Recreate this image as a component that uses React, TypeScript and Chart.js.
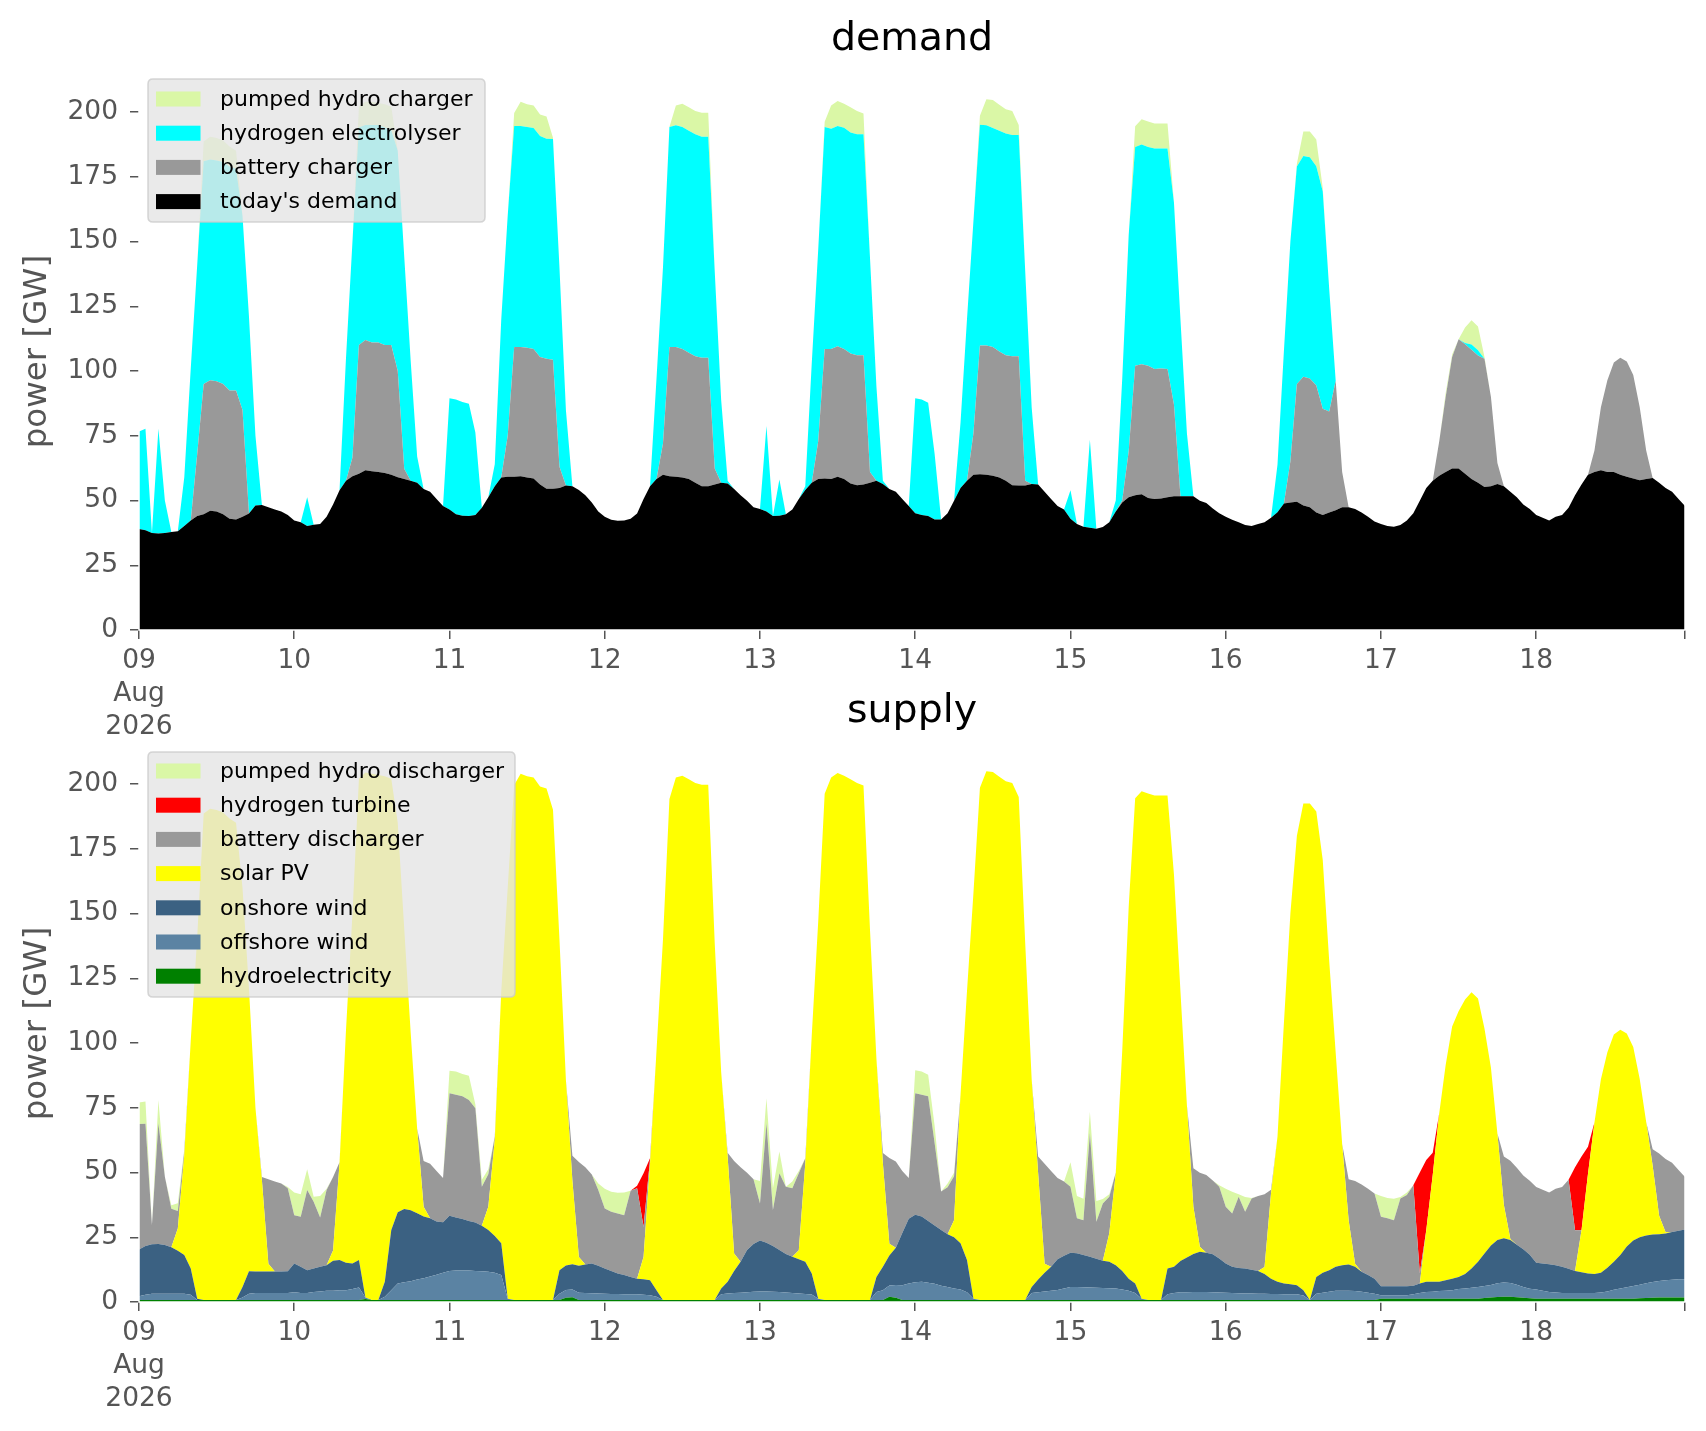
import React, { useEffect, useRef } from "react";
import { Chart, registerables } from "chart.js";

Chart.register(...registerables);

// ---------- axis labels ----------
const dayLabels = ["09", "10", "11", "12", "13", "14", "15", "16", "17", "18"];
const firstTickExtra = ["Aug", "2026"];
const yTickValues = [0, 25, 50, 75, 100, 125, 150, 175, 200];
const HOURS = 240;
const hours = Array.from({ length: HOURS }, (_, i) => i);

// ---------- demand (GW, hourly from 09 Aug 00:00) ----------
const todaysDemand = [
  39, 38.5, 37.5, 37.3, 37.5, 37.8, 38.1, 40.2, 42.3, 44, 44.7, 46, 45.8, 44.7, 43, 42.7, 43.7, 45, 48.1, 48.3, 47.4, 46.5, 45.8, 44.4,
  42.3, 41.6, 40.2, 40.6, 40.9, 43.7, 48.5, 54, 57.6, 59.4, 60.3, 61.7, 61.3, 61, 60.6, 59.9, 59, 58.3, 57.6, 56.9, 54.4, 53.4, 50.6, 47.9,
  46.5, 44.7, 44.1, 44, 44.4, 47.2, 51.3, 55.5, 58.9, 59.2, 59.2, 59.4, 58.9, 58.5, 56.2, 54.5, 54.5, 54.8, 55.8, 55.5, 54.1, 52, 49.2, 45.8,
  43.7, 42.6, 42.2, 42.3, 43, 45, 50.6, 55.5, 58.3, 59.9, 59.4, 59.2, 58.9, 58.3, 56.9, 55.5, 55.5, 56.2, 56.9, 56.6, 54.4, 52, 49.9, 47.4,
  46.7, 45.8, 44, 44.1, 44.7, 46.5, 50.6, 54.1, 56.9, 58.3, 58.5, 58.3, 59.2, 58.3, 56.6, 55.9, 56.2, 56.9, 57.6, 56.4, 54.4, 53.4, 50.6, 47.9,
  45.1, 44.4, 44, 42.7, 42.7, 45.1, 49.9, 54.8, 57.6, 59.9, 60.1, 59.9, 59.6, 58.9, 57.6, 55.9, 55.8, 55.8, 56.4, 56.2, 53.4, 50.6, 47.9, 46.5,
  43, 40.9, 39.9, 39.5, 39.1, 39.8, 41.6, 45.8, 49.2, 51.3, 52, 52.4, 51, 50.6, 50.8, 51.3, 51.6, 51.6, 51.6, 51.6, 49.9, 49, 46.9, 45.1,
  43.7, 42.6, 41.6, 40.5, 40.2, 40.9, 41.6, 43.3, 45.5, 48.8, 49.2, 49.5, 48.1, 47.4, 45.4, 44.4, 45.4, 46.2, 47.4, 47.4, 46.7, 45.4, 43.7, 41.9,
  40.9, 40.2, 39.9, 40.5, 42.3, 45.1, 49.9, 54.8, 57.6, 59.6, 61, 62.4, 62.4, 60.3, 58.3, 56.9, 55.2, 55.5, 56.4, 55.5, 53.4, 51.3, 48.5, 46.7,
  44.4, 43.3, 42.3, 43.7, 44.4, 47.2, 52, 56.2, 59.9, 61, 61.7, 61, 61, 59.9, 59.2, 58.5, 57.8, 58.3, 58.7, 56.9, 54.8, 53.4, 50.6, 47.9,
];

const batteryCharger = [
  0, 0, 0, 0, 0, 0, 0, 0, 0, 24, 50.3, 50.4, 50.2, 50.3, 49.5, 49.8, 41.2, 0, 0, 0, 0, 0, 0, 0,
  0, 0, 0, 0, 0, 0, 0, 0, 0, 7.2, 49.7, 50.3, 49.7, 50, 49.4, 50.1, 41, 4, 0, 0, 0, 0, 0, 0,
  0, 0, 0, 0, 0, 0, 0, 0, 0, 15.8, 50.1, 49.9, 50.1, 50, 49.2, 50.2, 49.8, 8.2, 0, 0, 0, 0, 0, 0,
  0, 0, 0, 0, 0, 0, 0, 0, 0, 12, 49.9, 50.1, 49.6, 48.7, 48.8, 49.6, 49.6, 6.2, 0, 0, 0, 0, 0, 0,
  0, 0, 0, 0, 0, 0, 0, 0, 0, 14.5, 50, 50.2, 50.4, 50.2, 50.2, 50.2, 49.9, 4.1, 0, 0, 0, 0, 0, 0,
  0, 0, 0, 0, 0, 0, 0, 0, 0, 16.1, 49.7, 49.9, 49.7, 48.6, 48.5, 49.8, 49.9, 1.8, 0, 0, 0, 0, 0, 0,
  0, 0, 0, 0, 0, 0, 0, 0, 0.8, 17.7, 50, 50.2, 51, 50.2, 50.2, 49.5, 35.4, 0, 0, 0, 0, 0, 0, 0,
  0, 0, 0, 0, 0, 0, 0, 0, 0, 0, 16, 45.5, 49.7, 49.7, 49, 41, 39, 50, 13.6, 0, 0, 0, 0, 0,
  0, 0, 0, 0, 0, 0, 0, 0, 0, 13.2, 29, 43, 49.9, 50, 49.9, 49.1, 49.5, 34.5, 8.1, 0, 0, 0, 0, 0,
  0, 0, 0, 0, 0, 0, 0, 0, 0, 8.3, 24.3, 35.4, 42.3, 45.2, 44.5, 40, 28.2, 11, 0, 0, 0, 0, 0, 0,
];

const hydrogenElectrolyser = [
  37.6, 39.2, 0, 40.4, 12.5, 0, 0, 18.8, 58.7, 73, 86, 85.3, 85.3, 85.7, 86.5, 85.5, 75, 76, 27, 0, 0, 0, 0, 0,
  0, 0, 11.1, 0, 0, 0, 0, 0, 47.4, 83.4, 84, 83, 84, 84, 84, 83, 85, 82, 46.4, 10.1, 0, 0, 0, 0,
  43, 44.3, 43.9, 43.4, 31.9, 0, 0, 8.5, 61, 85, 85.3, 85.3, 85.2, 85.3, 85.3, 85, 85.3, 77, 29, 0, 0, 0, 0, 0,
  0, 0, 0, 0, 0, 0, 0, 0, 38.7, 68, 84.9, 85.6, 85.7, 85.8, 85.7, 85.3, 85.3, 76.3, 31.9, 1, 0, 0, 0, 0,
  0, 33, 0, 14, 0, 0, 0, 1.4, 46, 74, 85.7, 85, 85, 85.4, 85.3, 85.3, 85.3, 83, 36.4, 1.2, 0, 0, 0, 0,
  44.4, 44.6, 43.7, 25.3, 0, 0, 0, 25.2, 62.4, 82, 85.3, 85.1, 84.5, 85.3, 85.6, 85.4, 85.4, 81.1, 29.6, 0, 0, 0, 0, 0,
  11, 0, 0, 34, 0, 0, 0, 4.2, 47, 83.6, 84.5, 84.9, 84.5, 85.1, 84.9, 85.1, 78, 68.4, 24.4, 0, 0, 0, 0, 0,
  0, 0, 0, 0, 0, 0, 0, 0, 18.3, 59.2, 85, 84, 85.2, 85.4, 84.7, 83.9, 47.2, 0, 0, 0, 0, 0, 0, 0,
  0, 0, 0, 0, 0, 0, 0, 0, 0, 0, 0, 0, 0, 0.5, 2, 2, 0, 0, 0, 0, 0, 0, 0, 0,
  0, 0, 0, 0, 0, 0, 0, 0, 0, 0, 0, 0, 0, 0, 0, 0, 0, 0, 0, 0, 0, 0, 0, 0,
];

const pumpedHydroCharger = [
  0, 0, 0, 0, 0, 0, 0, 0, 0, 0, 7.6, 8.7, 8.7, 8.3, 7.7, 7, 0, 0, 0, 0, 0, 0, 0, 0,
  0, 0, 0, 0, 0, 0, 0, 0, 0, 0, 8, 9, 9, 8.5, 9, 9, 0, 0, 0, 0, 0, 0, 0, 0,
  0, 0, 0, 0, 0, 0, 0, 0, 0, 0, 5, 9.4, 8.8, 8.7, 8.3, 8.6, 0.5, 0, 0, 0, 0, 0, 0, 0,
  0, 0, 0, 0, 0, 0, 0, 0, 0, 0, 0, 7.6, 9, 9, 9, 9.3, 9.3, 0, 0, 0, 0, 0, 0, 0,
  0, 0, 0, 0, 0, 0, 0, 0, 0, 0, 2, 9, 9.6, 9.3, 9.7, 9, 8, 0, 0, 0, 0, 0, 0, 0,
  0, 0, 0, 0, 0, 0, 0, 0, 0, 0, 3.5, 10, 10.8, 10, 9.4, 9.3, 3.9, 0, 0, 0, 0, 0, 0, 0,
  0, 0, 0, 0, 0, 0, 0, 0, 0, 0, 8, 9.7, 9.8, 9.7, 9.7, 9.7, 0, 0, 0, 0, 0, 0, 0, 0,
  0, 0, 0, 0, 0, 0, 0, 0, 0, 0, 0, 1, 9.5, 10, 10.3, 1.4, 0, 0, 0, 0, 0, 0, 0, 0,
  0, 0, 0, 0, 0, 0, 0, 0, 0, 0, 1.5, 1, 0, 6, 9.4, 9.2, 0.7, 0, 0, 0, 0, 0, 0, 0,
  0, 0, 0, 0, 0, 0, 0, 0, 0, 0, 0, 0, 0, 0, 0, 0, 0, 0, 0, 0, 0, 0, 0, 0,
];

// ---------- supply (GW, hourly from 09 Aug 00:00) ----------
const hydroelectricity = [
  0.8, 0.8, 0.8, 0.8, 0.8, 0.8, 0.8, 0.8, 0.8, 0.8, 0.8, 0.8, 0.8, 0.8, 0.8, 0.8, 0.8, 0.8, 0.8, 0.8, 0.8, 0.8, 0.8, 0.8,
  0.8, 0.8, 0.8, 0.8, 0.8, 0.8, 0.8, 0.8, 0.8, 0.8, 0.8, 1.2, 0.8, 0.8, 0.8, 0.8, 0.8, 0.8, 0.8, 0.8, 0.8, 0.8, 0.8, 0.8,
  0.8, 0.8, 0.8, 0.8, 0.8, 0.8, 0.8, 0.8, 0.8, 0.8, 0.8, 0.8, 0.8, 0.8, 0.8, 0.8, 0.8, 0.8, 1.6, 1.8, 0.8, 0.8, 0.8, 0.8,
  0.8, 0.8, 0.8, 0.8, 0.8, 0.8, 0.8, 0.8, 0.8, 0.8, 0.8, 0.8, 0.8, 0.8, 0.8, 0.8, 0.8, 0.8, 0.8, 0.8, 0.8, 0.8, 0.8, 0.8,
  0.8, 0.8, 0.8, 0.8, 0.8, 0.8, 0.8, 0.8, 0.8, 0.8, 0.8, 0.8, 0.8, 0.8, 0.8, 0.8, 0.8, 0.8, 0.8, 0.8, 2, 1.6, 0.8, 0.8,
  0.8, 0.8, 0.8, 0.8, 0.8, 0.8, 0.8, 0.8, 0.8, 0.8, 0.8, 0.8, 0.8, 0.8, 0.8, 0.8, 0.8, 0.8, 0.8, 0.8, 0.8, 0.8, 0.8, 0.8,
  0.8, 0.8, 0.8, 0.8, 0.8, 0.8, 0.8, 0.8, 0.8, 0.8, 0.8, 0.8, 0.8, 0.8, 0.8, 0.8, 0.8, 0.8, 0.8, 0.8, 0.8, 0.8, 0.8, 0.8,
  0.8, 0.8, 0.8, 0.8, 0.8, 0.8, 0.8, 0.8, 0.8, 0.8, 0.8, 0.8, 0.8, 0.8, 0.8, 0.8, 0.8, 0.8, 0.8, 0.8, 0.8, 0.8, 0.8, 0.8,
  1.3, 1.3, 1.3, 1.3, 1.3, 1.3, 1.3, 1.3, 1.3, 1.3, 1.3, 1.3, 1.3, 1.3, 1.3, 1.3, 1.5, 1.7, 1.9, 2, 2, 1.8, 1.6, 1.4,
  1.3, 1.3, 1.3, 1.3, 1.3, 1.3, 1.3, 1.3, 1.3, 1.3, 1.3, 1.3, 1.3, 1.3, 1.3, 1.3, 1.4, 1.5, 1.6, 1.7, 1.7, 1.7, 1.7, 1.7,
];

const offshoreWind = [
  1.4, 2, 2.4, 2.4, 2.4, 2.4, 2.4, 2.4, 2, 0, 0, 0, 0, 0, 0, 0, 0.9, 2.4, 2.7, 2.7, 2.7, 2.7, 2.7, 2.7,
  3, 2.7, 2.7, 3.1, 3.3, 3.5, 3.5, 3.7, 3.7, 4.2, 4.8, 0.5, 0, 0, 1.2, 3.7, 6.3, 6.8, 7.2, 7.9, 8.4, 9, 9.7, 10.5,
  11.2, 11.4, 11.4, 11.4, 11.2, 11.1, 10.9, 10.5, 9.6, 0.5, 0, 0, 0, 0, 0, 0, 0, 2.4, 3, 3, 2.8, 2.7, 2.6, 2.5,
  2.4, 2.3, 2.3, 2.2, 2.2, 2.2, 2, 1.8, 1.2, 0, 0, 0, 0, 0, 0, 0, 0, 0, 2.2, 2.5, 2.7, 2.8, 3, 3.2,
  3.3, 3.3, 3.2, 3.1, 2.9, 2.7, 2.5, 2.3, 2.1, 0.5, 0, 0, 0, 0, 0, 0, 0, 0, 3.1, 3.7, 4.4, 5, 5.7, 6.3,
  6.8, 7, 6.6, 6.2, 5.5, 5, 4.4, 4, 3, 0.5, 0, 0, 0, 0, 0, 0, 0, 0, 2.7, 3, 3.3, 3.5, 3.8, 4.4,
  5, 5, 4.9, 4.8, 4.7, 4.6, 4.5, 4.4, 4, 3.5, 2.7, 0.5, 0, 0, 0, 2.2, 2.7, 3, 3, 3.1, 3.1, 3.1, 3, 2.9,
  2.8, 2.7, 2.6, 2.5, 2.5, 2.4, 2.4, 2.3, 2.3, 2.2, 2.2, 2.2, 1.7, 0, 2.4, 2.8, 3.2, 3.5, 3.5, 3.5, 3.4, 3.2, 2.8, 2.4,
  1.3, 1.3, 1.3, 1.3, 1.3, 1.7, 2.2, 2.6, 2.7, 2.9, 3, 3.2, 3.7, 3.9, 4.2, 4.5, 4.7, 4.9, 5.3, 5.5, 5.3, 4.9, 4.2, 3.7,
  3.5, 3, 2.6, 2.4, 2.2, 2.2, 2.2, 2.2, 2.2, 2.2, 2.4, 2.8, 3.4, 3.9, 4.4, 4.9, 5.3, 5.7, 6.1, 6.4, 6.7, 6.9, 7.1, 7.1,
];

const onshoreWind = [
  18.1, 18.8, 19.1, 19.2, 18.8, 17.9, 16.6, 14.9, 10.1, 0.5, 0, 0, 0, 0, 0, 0, 4.1, 8.7, 8.3, 8.3, 8.3, 8.3, 8.3, 8.4,
  11.1, 10.1, 8.8, 9, 9.5, 9.9, 11.6, 11.7, 10.7, 9.9, 10.6, 0, 0, 0, 5.8, 23.3, 27.6, 28.3, 27.4, 25.6, 23.8, 22.5, 20.6, 19.5,
  21.3, 20.4, 19.8, 19.1, 18.7, 17.5, 16.1, 14.2, 12.3, 0, 0, 0, 0, 0, 0, 0, 0, 9.1, 9.5, 9.8, 10.4, 11, 11.5, 10.7,
  9.7, 8.9, 7.9, 7.4, 6.7, 6, 6, 5.8, 2.5, 0, 0, 0, 0, 0, 0, 0, 0, 0, 2.2, 4.5, 8.5, 11.9, 16.3, 18.4,
  19.6, 18.8, 17.6, 16.2, 14.8, 14, 13.2, 12.4, 8.1, 0, 0, 0, 0, 0, 0, 0, 0, 0, 5.8, 9.1, 11.6, 14.3, 20.1, 25,
  26.1, 25.2, 23.9, 22.5, 21.5, 20.4, 19.8, 17.9, 12.4, 0, 0, 0, 0, 0, 0, 0, 0, 0, 2.3, 4.9, 7.2, 9.3, 11.9, 12.7,
  13.2, 13, 12.4, 11.9, 11.2, 10.5, 10.2, 9, 7.2, 4.7, 3.6, 0, 0, 0, 0, 9.9, 10.1, 12, 13.4, 14.6, 15.5, 15.1, 14.6, 13.1,
  11.3, 10.1, 9.7, 9.6, 9.2, 8.8, 7.6, 5.9, 4.7, 4.1, 3.9, 3.5, 2, 0, 6.5, 7.7, 8.3, 9.3, 9.9, 10.2, 9.4, 7.7, 6.8, 5.8,
  3.5, 3.5, 3.5, 3.5, 3.5, 3.3, 3.6, 3.9, 3.8, 3.6, 4.1, 4.5, 4.7, 5.6, 7.4, 9.7, 12.5, 15.2, 16.7, 17.1, 16.6, 15.4, 14.6, 13.1,
  10.4, 10.6, 10.7, 10.5, 10.1, 9.3, 8.5, 8, 7.5, 7.3, 7.6, 9.1, 10.8, 12.9, 15.7, 17.5, 18.3, 18.5, 18.4, 18.1, 18, 18.4, 18.7, 19.2,
];

const solarPV = [
  0, 0, 0, 0, 0, 0, 8.6, 38.7, 88.1, 139.7, 187.8, 189.6, 189.2, 188.2, 185.9, 184.2, 154.1, 109.1, 63.3, 35.2, 3, 0, 0, 0,
  0, 0, 0, 0, 0, 0, 4, 37.3, 89.8, 135.1, 185.8, 202.7, 203.2, 202.7, 195.2, 174.2, 150.3, 108.4, 68.6, 32.7, 3.8, 0, 0, 0,
  0, 0, 0, 0, 0, 0, 9, 37.1, 97.2, 158.7, 198.8, 203.2, 202.2, 201.7, 198.2, 197.5, 189.3, 127.7, 71.5, 32.2, 3.4, 0, 0, 0,
  0, 0, 0, 0, 0, 0, 8.6, 45.1, 92.5, 139.1, 193.4, 201.7, 202.4, 201, 199.6, 198.9, 198.9, 137.9, 83.6, 48.3, 6.7, 0, 0, 0,
  0, 0, 0, 0, 0, 0, 3.5, 38, 91.9, 145.5, 195.4, 201.7, 203.4, 202.4, 201, 199.6, 198.6, 143.2, 84.3, 39.9, 4.5, 0, 0, 0,
  0, 0, 0, 0, 0, 0, 6.6, 57.3, 103.8, 156.7, 197.8, 204.1, 203.8, 202, 200.3, 199.6, 194.2, 137.9, 80.2, 41, 3.5, 0, 0, 0,
  0, 0, 0, 0, 0, 0, 11, 35.5, 85, 143.6, 187.4, 195.9, 195.5, 194.8, 194.8, 182.7, 151.4, 104.2, 58.8, 18.3, 1.9, 0, 0, 0,
  0, 0, 0, 0, 0, 0, 2.7, 32.9, 56, 100.9, 143.3, 173.5, 188, 191.7, 179.7, 159.4, 119.3, 82.6, 46.8, 17.1, 1.2, 0, 0, 0,
  0, 0, 0, 0, 0, 0, 0, 19.9, 41.2, 65, 83.1, 97.4, 102.6, 106, 106.7, 101.7, 86.9, 68.6, 41.2, 12.9, 0.4, 0, 0, 0,
  0, 0, 0, 0, 0, 0, 0, 16.2, 38.4, 58.5, 74.7, 83.2, 87.8, 87, 82.3, 74.8, 61.1, 43.8, 26.5, 7.1, 0.5, 0, 0, 0,
];

const batteryDischarger = [
  48.4, 47.2, 7.4, 46.6, 26.4, 14.9, 6.7, 1.5, 0, 0, 0, 0, 0, 0, 0, 0, 0, 0, 0, 1.3, 32.6, 34.7, 34, 32,
  18.6, 19.3, 30.9, 25.8, 19, 29, 28.4, 0.5, 0, 0, 0, 0, 0, 0, 0, 0, 0, 0, 0, 0, 17.6, 21.1, 19.5, 17.1,
  47.3, 47.4, 47.4, 46.7, 44.1, 15.1, 12.5, 1.4, 0, 0, 0, 0, 0, 0, 0, 0, 0, 0, 0, 9.7, 36.7, 37.5, 34.3, 29.2,
  23.2, 22.8, 23.2, 23.1, 33.3, 34.9, 11.6, 1.5, 0, 0, 0, 0, 0, 0, 0, 0, 0, 0, 0, 1.5, 35.7, 36.5, 29.8, 25,
  14.3, 46.1, 13.9, 29.6, 26, 26.4, 29.7, 2, 0, 0, 0, 0, 0, 0, 0, 0, 0, 0, 0, 4, 33.1, 33.3, 24, 15.8,
  46.9, 47, 48.1, 31.8, 14.9, 18.1, 17, 0, 0, 0, 0, 0, 0, 0, 0, 0, 0, 0, 0, 6.5, 38.6, 37, 31.4, 28.6,
  25.5, 13.5, 13.5, 47.7, 14.3, 22.1, 14.1, 0.3, 0, 0, 0, 0, 0, 0, 0, 0, 0, 0, 0, 14.8, 28.6, 30, 28.5, 27.7,
  21.9, 20.6, 27.5, 21.9, 27.5, 28.9, 28.1, 1.4, 0, 0, 0, 0, 0, 0, 0, 0, 0, 0, 0, 15.8, 31.9, 33.7, 33.3, 32.9,
  26.8, 26.2, 25.5, 33.9, 35.2, 38.8, 4, 0, 0, 0, 0, 0, 0, 0, 0, 0, 0, 0, 0, 18.7, 30.2, 29.7, 28.4, 28.6,
  29.2, 28.4, 27.7, 29.5, 30.8, 34.4, 15.7, 0, 0, 0, 0, 0, 0, 0, 0, 0, 0, 0, 6.4, 24, 28.3, 26.8, 23.5, 20.3,
];

const hydrogenTurbine = [
  0, 0, 0, 0, 0, 0, 0, 0, 0, 0, 0, 0, 0, 0, 0, 0, 0, 0, 0, 0, 0, 0, 0, 0,
  0, 0, 0, 0, 0, 0, 0, 0, 0, 0, 0, 0, 0, 0, 0, 0, 0, 0, 0, 0, 0, 0, 0, 0,
  0, 0, 0, 0, 0, 0, 0, 0, 0, 0, 0, 0, 0, 0, 0, 0, 0, 0, 0, 0, 0, 0, 0, 0,
  0, 0, 0, 0, 0, 1, 20.7, 0.5, 0, 0, 0, 0, 0, 0, 0, 0, 0, 0, 0, 0, 0, 0, 0, 0,
  0, 0, 0, 0, 0, 0, 0, 0, 0, 0, 0, 0, 0, 0, 0, 0, 0, 0, 0, 0, 0, 0, 0, 0,
  0, 0, 0, 0, 0, 0, 0, 0, 0, 0, 0, 0, 0, 0, 0, 0, 0, 0, 0, 0, 0, 0, 0, 0,
  0, 0, 0, 0, 0, 0, 0, 0, 0, 0, 0, 0, 0, 0, 0, 0, 0, 0, 0, 0, 0, 0, 0, 0,
  0, 0, 0, 0, 0, 0, 0, 0, 0, 0, 0, 0, 0, 0, 0, 0, 0, 0, 0, 0, 0, 0, 0, 0,
  0, 0, 0, 0, 0, 0, 38.9, 27.1, 8.6, 0, 0, 0, 0, 0, 0, 0, 0, 0, 0, 0, 0, 0, 0, 0,
  0, 0, 0, 0, 0, 0, 24.3, 28.5, 10.5, 0, 0, 0, 0, 0, 0, 0, 0, 0, 0, 0, 0, 0, 0, 0,
];

const pumpedHydroDischarger = [
  8.3, 8.6, 0, 9, 0, 1.4, 3, 0.7, 0, 0, 0, 0, 0, 0, 0, 0, 0, 0, 0, 0, 0, 0, 0, 0.5,
  8.8, 8.7, 8.1, 1.9, 8.3, 0.5, 0, 0, 0, 0, 0, 0, 0, 0, 0, 0, 0, 0, 0, 0, 0, 0, 0, 0,
  8.7, 9, 8.6, 9.4, 1.5, 2.7, 2, 0, 0, 0, 0, 0, 0, 0, 0, 0, 0, 0, 0, 0, 0, 0, 0, 2.6,
  7.6, 7.8, 8, 8.8, 0, 0, 0, 0, 0, 0, 0, 0, 0, 0, 0, 0, 0, 0, 0, 0, 0, 0, 0, 0,
  8.7, 9.7, 8.4, 8.4, 0, 2.6, 0.9, 0, 0, 0, 0, 0, 0, 0, 0, 0, 0, 0, 0, 0, 0, 0, 0, 0,
  8.9, 9, 8.3, 6.7, 0, 1.5, 1.3, 0, 0, 0, 0, 0, 0, 0, 0, 0, 0, 0, 0, 0, 0, 0, 0, 0,
  9.5, 8.6, 8.3, 8.3, 8, 1.8, 1, 0, 0, 0, 0, 0, 0, 0, 0, 0, 0, 0, 0, 0, 0, 0, 0, 0.6,
  6.9, 8.4, 1, 5.7, 0.2, 0, 0, 0, 0, 0, 0, 0, 0, 0, 0, 0, 0, 0, 0, 0, 0, 0, 0, 0,
  8, 7.9, 8.3, 0.5, 1, 0, 0, 0, 0, 0, 0, 0, 0, 0, 0, 0, 0, 0, 0, 0, 0, 0, 0, 0,
  0, 0, 0, 0, 0, 0, 0, 0, 0, 0, 0, 0, 0, 0, 0, 0, 0, 0, 0, 0, 0, 0, 0, 0,
];

// ---------- series meta (bottom of stack first) ----------
const COLORS = {
  pumped: "#daf7a6",
  electrolyser: "#00ffff",
  battery: "#999999",
  demand: "#000000",
  turbine: "#ff0000",
  solar: "#ffff00",
  onshore: "#3b6182",
  offshore: "#5b83a3",
  hydro: "#008000",
};

const demandSeries = [
  { label: "today's demand", data: todaysDemand, color: COLORS.demand },
  { label: "battery charger", data: batteryCharger, color: COLORS.battery },
  { label: "hydrogen electrolyser", data: hydrogenElectrolyser, color: COLORS.electrolyser },
  { label: "pumped hydro charger", data: pumpedHydroCharger, color: COLORS.pumped },
];

const supplySeries = [
  { label: "hydroelectricity", data: hydroelectricity, color: COLORS.hydro },
  { label: "offshore wind", data: offshoreWind, color: COLORS.offshore },
  { label: "onshore wind", data: onshoreWind, color: COLORS.onshore },
  { label: "solar PV", data: solarPV, color: COLORS.solar },
  { label: "battery discharger", data: batteryDischarger, color: COLORS.battery },
  { label: "hydrogen turbine", data: hydrogenTurbine, color: COLORS.turbine },
  { label: "pumped hydro discharger", data: pumpedHydroDischarger, color: COLORS.pumped },
];

const FONT = "'DejaVu Sans', 'Liberation Sans', sans-serif";
const W = 1706;
const PLOT_LEFT = 139;
const PLOT_RIGHT = 1685;
const Y_MAX = 215;
const PX_PER_GW = 2.59;

type Cfg = {
  title: string;
  titleY: number;
  series: { label: string; data: number[]; color: string }[];
  height: number;
  plotBottom: number;
  legendBox: { x: number; y: number; w: number; h: number; first: number };
};

function overlayPlugin(cfg: Cfg) {
  return {
    id: "overlay",
    afterDatasetsDraw(chart: any) {
      const ctx = chart.ctx as CanvasRenderingContext2D;
      const ca = chart.chartArea;
      ctx.save();
      ctx.strokeStyle = "#ffffff";
      ctx.lineWidth = 1.5;
      ctx.beginPath();
      ctx.moveTo(ca.left, ca.top);
      ctx.lineTo(ca.left, ca.bottom);
      ctx.lineTo(ca.right, ca.bottom);
      ctx.lineTo(ca.right, ca.top);
      ctx.stroke();
      ctx.restore();
    },
    afterDraw(chart: any) {
      const ctx = chart.ctx as CanvasRenderingContext2D;
      const ca = chart.chartArea;
      ctx.save();
      // title
      ctx.fillStyle = "#000";
      ctx.font = `39.5px ${FONT}`;
      ctx.textAlign = "center";
      ctx.textBaseline = "middle";
      ctx.fillText(cfg.title, (ca.left + ca.right) / 2, cfg.titleY);

      // legend frame
      const b = cfg.legendBox;
      const r = 5;
      ctx.beginPath();
      ctx.moveTo(b.x + r, b.y);
      ctx.lineTo(b.x + b.w - r, b.y);
      ctx.quadraticCurveTo(b.x + b.w, b.y, b.x + b.w, b.y + r);
      ctx.lineTo(b.x + b.w, b.y + b.h - r);
      ctx.quadraticCurveTo(b.x + b.w, b.y + b.h, b.x + b.w - r, b.y + b.h);
      ctx.lineTo(b.x + r, b.y + b.h);
      ctx.quadraticCurveTo(b.x, b.y + b.h, b.x, b.y + b.h - r);
      ctx.lineTo(b.x, b.y + r);
      ctx.quadraticCurveTo(b.x, b.y, b.x + r, b.y);
      ctx.closePath();
      ctx.fillStyle = "rgba(229,229,229,0.8)";
      ctx.fill();
      ctx.strokeStyle = "rgba(204,204,204,0.8)";
      ctx.lineWidth = 1.5;
      ctx.stroke();

      // legend entries (top of stack first)
      const items = [...cfg.series].reverse();
      ctx.font = `22px ${FONT}`;
      ctx.textAlign = "left";
      ctx.textBaseline = "middle";
      items.forEach((s, i) => {
        const cy = b.y + b.first + i * 34.2;
        ctx.fillStyle = s.color;
        ctx.fillRect(b.x + 8, cy - 7.5, 44.5, 15);
        ctx.fillStyle = "#000";
        ctx.fillText(s.label, b.x + 72, cy + 1);
      });
      ctx.restore();
    },
  };
}

function buildChart(canvas: HTMLCanvasElement, cfg: Cfg) {
  const tickHours = [0, 24, 48, 72, 96, 120, 144, 168, 192, 216, 239];
  const xAxisHeight = cfg.height - cfg.plotBottom;
  const plotTop = cfg.plotBottom - Y_MAX * PX_PER_GW;
  return new Chart(canvas, {
    type: "line",
    data: {
      labels: hours,
      datasets: cfg.series.map((s, i) => ({
        label: s.label,
        data: s.data,
        backgroundColor: s.color,
        borderColor: s.color,
        borderWidth: 0,
        pointRadius: 0,
        tension: 0,
        fill: i === 0 ? "origin" : "-1",
      })),
    },
    options: {
      responsive: false,
      animation: false,
      devicePixelRatio: 1,
      events: [],
      layout: { padding: { left: 0, right: W - PLOT_RIGHT, top: plotTop, bottom: 0 } },
      plugins: {
        legend: { display: false },
        title: { display: false },
        tooltip: { enabled: false },
      },
      scales: {
        x: {
          type: "linear",
          min: 0,
          max: 239,
          afterBuildTicks: (scale: any) => {
            scale.ticks = tickHours.map((v) => ({ value: v }));
          },
          afterFit: (scale: any) => {
            scale.height = xAxisHeight;
          },
          ticks: {
            autoSkip: false,
            maxRotation: 0,
            minRotation: 0,
            padding: 5.5,
            color: "#555555",
            font: { family: FONT, size: 26.5, lineHeight: 1.24 },
            callback: (value: any) => {
              const idx = tickHours.indexOf(Number(value));
              if (idx < 0 || idx >= dayLabels.length) return "";
              if (idx === 0) return [dayLabels[0], ...firstTickExtra];
              return dayLabels[idx];
            },
          },
          grid: {
            display: true,
            drawOnChartArea: false,
            drawTicks: true,
            tickLength: 9,
            color: "#555555",
            lineWidth: 1.5,
          },
          border: { display: false },
        },
        y: {
          stacked: true,
          min: 0,
          max: Y_MAX,
          afterBuildTicks: (scale: any) => {
            scale.ticks = yTickValues.map((v) => ({ value: v }));
          },
          afterFit: (scale: any) => {
            scale.width = PLOT_LEFT;
          },
          ticks: {
            padding: 12,
            color: "#555555",
            font: { family: FONT, size: 26.5 },
            callback: (value: any) => String(value),
          },
          grid: {
            display: true,
            drawOnChartArea: false,
            drawTicks: true,
            tickLength: 9,
            color: "#555555",
            lineWidth: 1.5,
          },
          border: { display: false },
          title: {
            display: true,
            text: "power [GW]",
            color: "#555555",
            font: { family: FONT, size: 32.5, lineHeight: 1.2 },
            padding: { top: 18, bottom: 0 },
          },
        },
      },
    },
    plugins: [overlayPlugin(cfg)],
  } as any);
}

const demandCfg: Cfg = {
  title: "demand",
  titleY: 40,
  series: demandSeries,
  height: 760,
  plotBottom: 630,
  legendBox: { x: 148, y: 79, w: 337, h: 143, first: 20 },
};

const SUPPLY_TOP = 680;
const supplyCfg: Cfg = {
  title: "supply",
  titleY: 712 - SUPPLY_TOP,
  series: supplySeries,
  height: 1431 - SUPPLY_TOP,
  plotBottom: 1302 - SUPPLY_TOP,
  legendBox: { x: 148, y: 752 - SUPPLY_TOP, w: 367, h: 245, first: 19 },
};

export default function App() {
  const demandRef = useRef<HTMLCanvasElement | null>(null);
  const supplyRef = useRef<HTMLCanvasElement | null>(null);

  useEffect(() => {
    document.body.style.margin = "0";
    document.body.style.background = "#ffffff";
    const charts: Chart[] = [];
    if (demandRef.current) charts.push(buildChart(demandRef.current, demandCfg));
    if (supplyRef.current) charts.push(buildChart(supplyRef.current, supplyCfg));
    return () => charts.forEach((c) => c.destroy());
  }, []);

  return (
    <div style={{ position: "relative", width: W, height: 1431, background: "#ffffff", overflow: "hidden" }}>
      <canvas
        ref={demandRef}
        width={W}
        height={demandCfg.height}
        style={{ position: "absolute", left: 0, top: 0, width: W, height: demandCfg.height }}
      />
      <canvas
        ref={supplyRef}
        width={W}
        height={supplyCfg.height}
        style={{ position: "absolute", left: 0, top: SUPPLY_TOP, width: W, height: supplyCfg.height }}
      />
    </div>
  );
}
